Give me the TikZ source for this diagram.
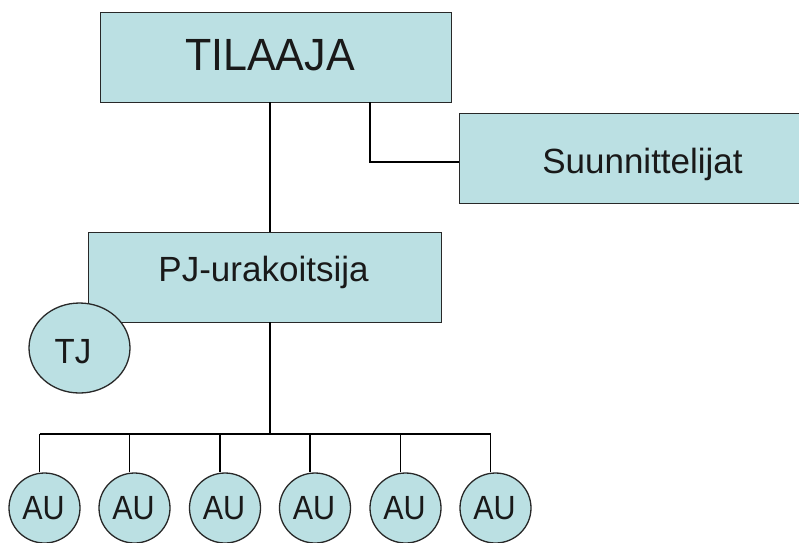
\documentclass[tikz,border=0pt]{standalone}
\usepackage{fontspec}
\setmainfont{Liberation Sans}
\usetikzlibrary{shapes.geometric}
\definecolor{boxfill}{RGB}{187,224,227}
\definecolor{edge}{RGB}{40,40,40}
\tikzset{
  orgbox/.style={draw=edge, line width=1.3pt, fill=boxfill, rectangle, inner sep=0pt, anchor=north west},
  orgoval/.style={draw=edge, line width=1.3pt, fill=boxfill, ellipse, inner sep=0pt},
  lbl/.style={anchor=base, inner sep=0pt, text=black!90},
  link/.style={draw=black, line width=1.3pt},
}
\begin{document}
\begin{tikzpicture}[x=1pt,y=-1pt]
\useasboundingbox (0,0) rectangle (799,542);
\clip (0,0) rectangle (799,542);
% boxes
\node[orgbox, minimum width=351pt, minimum height=90pt] (til) at (100,12) {};
\node[lbl, font=\fontsize{43}{48}\selectfont] (tiltxt) at (270,70.5) {\scalebox{1}[1.05]{TILAAJA}};
\node[orgbox, minimum width=366pt, minimum height=90pt] (suu) at (459,113) {};
\node[lbl, font=\fontsize{35}{40}\selectfont] (suutxt) at (642.5,173.5) {Suunnittelijat};
\node[orgbox, minimum width=353pt, minimum height=90pt] (pj) at (88,232) {};
\node[lbl, font=\fontsize{35}{40}\selectfont] (pjtxt) at (263.5,281.7) {PJ-urakoitsija};
\node[orgoval, minimum width=101pt, minimum height=90pt] (tj) at (79.5,348) {};
\node[lbl, font=\fontsize{33}{38}\selectfont] (tjtxt) at (73,363.3) {\scalebox{1}[1.06]{TJ}};
% connectors
\coordinate (tilA) at (270,102);
\coordinate (tilB) at (370,102);
\coordinate (pjTop) at (270,232);
\coordinate (suuL) at (459,162);
\draw[link] (tilA) -- (pjTop);
\draw[link] (tilB) |- (suuL);
\coordinate (pjB) at (270,322);
\coordinate (bus) at (270,434);
\draw[link] (pjB) -- (bus);
\coordinate (busL) at (39.5,434);
\coordinate (busR) at (490.5,434);
\draw[link] (busL) -- (busR);
\foreach \i/\x in {1/39.5,2/129.5,3/220,4/310,5/400.5,6/490.5}{
  \node[orgoval, minimum width=71pt, minimum height=70pt] (au\i) at ({\x+5},508) {};
  \node[lbl, font=\fontsize{30.5}{35}\selectfont] (aut\i) at ({\x+4},519.3) {\scalebox{1}[1.1]{AU}};
  \coordinate (d\i) at (\x,434);
  \draw[link] (d\i) -- (au\i.north -| d\i);
}
\end{tikzpicture}
\end{document}
